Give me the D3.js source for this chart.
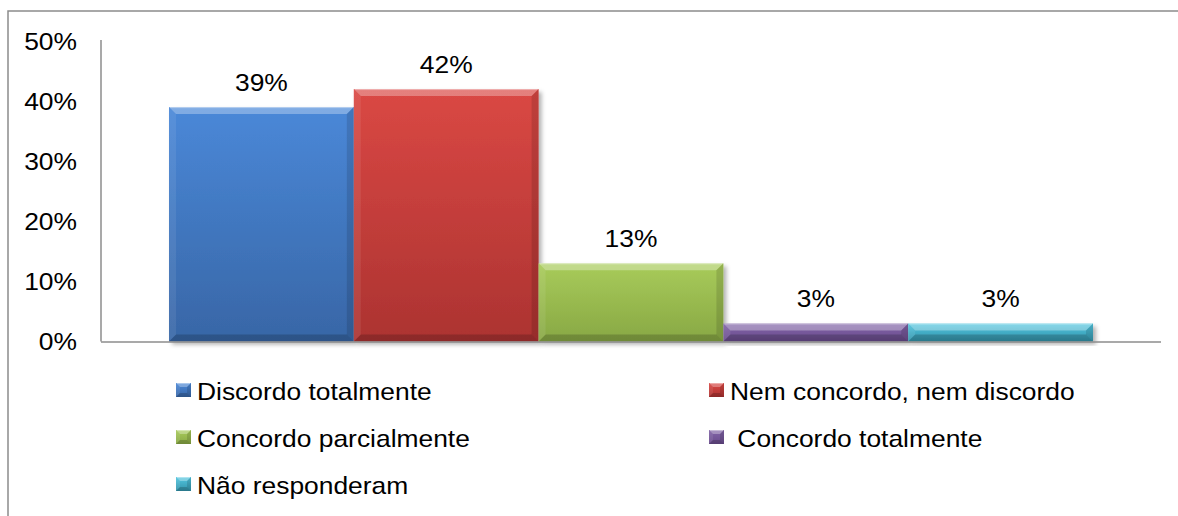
<!DOCTYPE html>
<html>
<head>
<meta charset="utf-8">
<script src="https://cdn.jsdelivr.net/npm/d3@7"></script>
<style>
  html, body { margin: 0; padding: 0; background: #fff; }
  svg { display: block; }
  text { font-family: "Liberation Sans", Arial, sans-serif; fill: #000; white-space: pre; }
</style>
</head>
<body>
<svg id="chart" width="1178" height="516"></svg>
<script>
// Survey answers (percent of respondents)
const series = ["Discordo totalmente", "Nem concordo, nem discordo", "Concordo parcialmente", "Concordo totalmente", "Não responderam"];
const values = [39, 42, 13, 3, 3];
const legendLabels = ["Discordo totalmente", "Nem concordo, nem discordo", "Concordo parcialmente", " Concordo totalmente", "Não responderam"];
const yTicks = [0, 10, 20, 30, 40, 50];
const topColors = ["#4a88d8", "#da4844", "#a8cb5a", "#8265a8", "#52c6e0"];
const bottomColors = ["#3866a6", "#ac3331", "#88a844", "#694b8c", "#3393aa"];

const svg = d3.select("#chart");
const FS = 24, STRETCH = 1.1;

// outer frame (extends past the right/bottom edges)
svg.append("path")
  .attr("d", "M8,520 L8,11 L1182,11")
  .attr("fill", "none").attr("stroke", "#8c8c8c").attr("stroke-width", 1.5);

const plot = { left: 101, right: 1161, top: 41, bottom: 341.5 };

const y = d3.scaleLinear().domain([0, 50]).range([plot.bottom, plot.top]);
const x = d3.scaleBand().domain(series).range([plot.left, plot.right])
  .paddingInner(0).paddingOuter(0.368);

const defs = svg.append("defs");
series.forEach((s, i) => {
  const g = defs.append("linearGradient").attr("id", "grad" + i)
    .attr("x1", 0).attr("y1", 0).attr("x2", 0).attr("y2", 1);
  g.append("stop").attr("offset", "0%").attr("stop-color", topColors[i]);
  g.append("stop").attr("offset", "100%").attr("stop-color", bottomColors[i]);
});
const shadow = defs.append("filter").attr("id", "shadow")
  .attr("x", "-10%").attr("y", "-10%").attr("width", "130%").attr("height", "130%");
shadow.append("feDropShadow").attr("dx", 3).attr("dy", 3).attr("stdDeviation", 2)
  .attr("flood-color", "#000").attr("flood-opacity", 0.3);

// bevelled box: gradient face plus light/dark edge facets
function bevelBox(g, bx, by, w, h, i, b, withShadow) {
  b = Math.min(b, h / 2, w / 2);
  const grp = g.append("g");
  grp.append("rect").attr("x", bx).attr("y", by).attr("width", w).attr("height", h)
    .attr("fill", `url(#grad${i})`)
    .attr("filter", withShadow ? "url(#shadow)" : null);
  const facets = [
    { pts: [[bx, by], [bx + w, by], [bx + w - b, by + b], [bx + b, by + b]], fill: "#fff", op: 0.3 },
    { pts: [[bx, by], [bx + b, by + b], [bx + b, by + h - b], [bx, by + h]], fill: "#fff", op: 0.08 },
    { pts: [[bx + w, by], [bx + w, by + h], [bx + w - b, by + h - b], [bx + w - b, by + b]], fill: "#000", op: 0.12 },
    { pts: [[bx, by + h], [bx + b, by + h - b], [bx + w - b, by + h - b], [bx + w, by + h]], fill: "#000", op: 0.18 }
  ];
  facets.forEach(f => grp.append("polygon")
    .attr("points", f.pts.map(p => p.join(",")).join(" "))
    .attr("fill", f.fill).attr("fill-opacity", f.op));
  grp.append("line").attr("x1", bx + 1).attr("x2", bx + w - 1)
    .attr("y1", by + 0.5).attr("y2", by + 0.5)
    .attr("stroke", "#fff").attr("stroke-opacity", 0.35);
}

function label(g, tx, ty, str, anchor) {
  return g.append("text")
    .attr("transform", `translate(${tx},${ty}) scale(${STRETCH},1)`)
    .attr("text-anchor", anchor || "start")
    .style("font-size", FS + "px")
    .text(str);
}

// y axis
const yAxisG = svg.append("g");
yAxisG.append("line").attr("x1", plot.left).attr("x2", plot.left)
  .attr("y1", plot.top - 1).attr("y2", plot.bottom)
  .attr("stroke", "#8c8c8c").attr("stroke-width", 1.5);
yTicks.forEach(t => label(yAxisG, 77, y(t) + 8.5, t + "%", "end"));

// bars
const barsG = svg.append("g");
series.forEach((s, i) => {
  const bx = x(s), bw = x.bandwidth();
  const by = y(values[i]);
  bevelBox(barsG, bx, by, bw, plot.bottom - by, i, 7, true);
});

// x axis baseline
svg.append("line").attr("x1", plot.left).attr("x2", plot.right)
  .attr("y1", plot.bottom + 0.5).attr("y2", plot.bottom + 0.5)
  .attr("stroke", "#8c8c8c").attr("stroke-width", 1.5);

// value labels
const valG = svg.append("g");
series.forEach((s, i) => {
  label(valG, x(s) + x.bandwidth() / 2, y(values[i]) - 16, values[i] + "%", "middle");
});

// legend (two columns)
const legendCols = [176, 709];
const legendRows = [400, 447, 494];
const legG = svg.append("g");
legendLabels.forEach((name, i) => {
  const lx = legendCols[i % 2], ly = legendRows[Math.floor(i / 2)];
  bevelBox(legG, lx, ly - 17, 15, 14, i, 4, false);
  label(legG, lx + 21, ly, name, "start");
});
</script>
</body>
</html>
